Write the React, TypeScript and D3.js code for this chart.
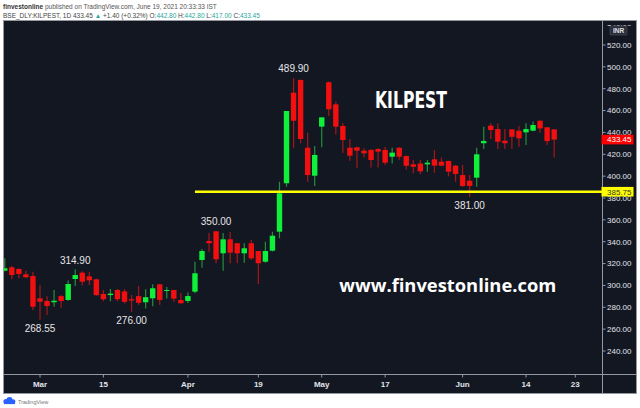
import React from 'react';
import * as d3 from 'd3';

// daily bars, BSE:KILPEST
const dates = [
  '2021-02-22', '2021-02-23', '2021-02-24', '2021-02-25', '2021-02-26',
  '2021-03-01', '2021-03-02', '2021-03-03', '2021-03-04', '2021-03-05',
  '2021-03-08', '2021-03-09', '2021-03-10', '2021-03-12', '2021-03-15',
  '2021-03-16', '2021-03-17', '2021-03-18', '2021-03-19', '2021-03-22',
  '2021-03-23', '2021-03-24', '2021-03-25', '2021-03-26', '2021-03-30',
  '2021-03-31', '2021-04-01', '2021-04-05', '2021-04-06', '2021-04-07',
  '2021-04-08', '2021-04-09', '2021-04-12', '2021-04-13', '2021-04-15',
  '2021-04-16', '2021-04-19', '2021-04-20', '2021-04-22', '2021-04-23',
  '2021-04-26', '2021-04-27', '2021-04-28', '2021-04-29', '2021-04-30',
  '2021-05-03', '2021-05-04', '2021-05-05', '2021-05-06', '2021-05-07',
  '2021-05-10', '2021-05-11', '2021-05-12', '2021-05-14', '2021-05-17',
  '2021-05-18', '2021-05-19', '2021-05-20', '2021-05-21', '2021-05-24',
  '2021-05-25', '2021-05-26', '2021-05-27', '2021-05-28', '2021-05-31',
  '2021-06-01', '2021-06-02', '2021-06-03', '2021-06-04', '2021-06-07',
  '2021-06-08', '2021-06-09', '2021-06-10', '2021-06-11', '2021-06-14',
  '2021-06-15', '2021-06-16', '2021-06-17', '2021-06-18',
];
const opens = [
  313.5, 316.6, 315, 310.2, 308.6, 288.2, 285.8, 284.6, 290.2, 286.7,
  305.9, 311.7, 308.3, 305.6, 292.2, 291.2, 295.8, 294.5, 287.4, 290.2,
  284.6, 288.2, 301, 295, 295.8, 286.7, 285.8, 294.3, 323.3, 340.7,
  349.5, 329.4, 342.2, 338.6, 329.4, 338.6, 331.5, 321.7, 331.8, 349.2,
  393.5, 476.4, 488, 426, 400.4, 445.3, 485.9, 465.7, 445.9, 426,
  426.4, 423.3, 424, 424.8, 424, 417.8, 426, 418.4, 410.8, 411.5,
  410.8, 415.4, 413.2, 413.9, 409.6, 401, 395.8, 398.6, 430.1, 446.2,
  443.1, 432.4, 442.8, 441.6, 440.1, 441.6, 450.7, 444.7, 442.8,
];
const highs = [
  324.8, 317.8, 315.7, 313.5, 312.6, 300.4, 290, 295.8, 291.2, 304.5,
  314.9, 313, 312.6, 306, 295.8, 296.7, 296.7, 296.7, 291.2, 299.5,
  296.5, 301, 301.5, 298.5, 296, 293, 293.5, 321.7, 333.3, 348,
  350, 348, 349, 338.6, 338.6, 341.6, 331.5, 340, 349.2, 394.9,
  459.6, 489.9, 488.5, 439.8, 427.6, 454, 486.5, 468, 448.4, 433.7,
  427, 425.5, 424.5, 425.5, 426.7, 426, 426.5, 418.8, 414.8, 414.8,
  414.8, 424, 417, 414, 410, 410.2, 401, 426, 445.2, 448.4,
  448.4, 443.1, 442.8, 445.8, 448.4, 450, 451, 444.9, 442.8,
];
const lows = [
  313, 305.6, 306.5, 306.5, 277.5, 268.55, 273, 280.5, 279.5, 286,
  299.5, 300, 300.4, 290.3, 285.5, 285.5, 285.5, 283.5, 276, 282,
  279, 281, 282, 288, 285, 283.5, 284, 292.8, 316.2, 330.9,
  320.3, 313.5, 320.3, 320.3, 320.8, 323.3, 301.3, 320.8, 331, 343.1,
  390.3, 425.5, 430, 394.9, 391, 426.4, 455, 438, 421.5, 414,
  407.2, 417, 408, 408, 410, 411.5, 415, 406, 402.6, 402,
  404, 403.2, 409, 400, 394.9, 390.3, 381, 390.3, 424.8, 434,
  424.8, 424.8, 424.8, 427, 428.5, 441, 440, 428.5, 417,
];
const closes = [
  315.7, 309.5, 310.5, 307.5, 280.5, 285.1, 281.2, 286, 285.7, 301.3,
  309.5, 303.4, 304.7, 291.2, 287.4, 292.5, 287.4, 285, 286.2, 284.1,
  289.2, 297.4, 286.7, 295.8, 287.9, 283.7, 290.3, 311.1, 331.5, 338.6,
  323.9, 342.2, 330, 329.4, 334, 324.8, 320.3, 331.5, 345.5, 384.3,
  459.6, 450.7, 434, 401, 419.4, 453.8, 461.2, 445.3, 433.1, 418.7,
  423.3, 420.9, 414.8, 422.4, 412.3, 421.5, 417.8, 409.5, 408.6, 404.4,
  412.3, 409.6, 409.6, 404.1, 402, 391, 391, 420, 432.2, 442.2,
  431.5, 430.1, 436, 434.6, 443.1, 446.8, 443.7, 432.05, 433.45,
];
// trading days after the last bar, so the time axis can reach "23"
const futureDates = ['2021-06-21', '2021-06-22', '2021-06-23'];

const timeTickDates = [
  '2021-03-01', '2021-03-15', '2021-04-01', '2021-04-19', '2021-05-03',
  '2021-05-17', '2021-06-01', '2021-06-14', '2021-06-23',
];
const timeTickLabels = ['Mar', '15', 'Apr', '19', 'May', '17', 'Jun', '14', '23'];
const priceTicks = [240, 260, 280, 300, 320, 340, 360, 380, 400, 420, 440, 460, 480, 500, 520, 540];

// swing highs / lows that carry a price note
const highNotes = ['2021-03-08', '2021-04-08', '2021-04-27'];
const lowNotes = ['2021-03-01', '2021-03-19', '2021-06-02'];

const supportPrice = 385.75;
const supportFrom = '2021-04-05';
const lastPrice = 433.45;

const UP = '#0ff03a';
const DOWN = '#f20f0f';
const UP_WICK = '#23903a';
const DOWN_WICK = '#a8161a';
const BG = '#131722';
const LINE = '#9598a1';
const FONT = '"Liberation Sans", Arial, sans-serif';

const App: React.FC = () => {
  const allDates = dates.concat(futureDates);
  const idx = (d: string) => allDates.indexOf(d);

  const left = 3.5;
  const top = 20.5;
  const plotRight = 602.5;
  const axisRight = 636.5;
  const plotBottom = 374.5;
  const bottom = 393.5;

  const x = d3.scaleLinear()
    .domain([idx('2021-03-01'), idx('2021-06-14')])
    .range([40, 526]);
  const y = d3.scaleLinear().domain([240, 520]).range([351, 45]);
  const bodyW = 5.4;

  const candles = dates.map((d, i) => ({
    d, i, o: opens[i], h: highs[i], l: lows[i], c: closes[i],
  }));

  return (
    <svg
      width={640}
      height={408}
      style={{ position: 'absolute', left: 0, top: 0, background: '#fff' }}
      fontFamily={FONT}
    >
      <defs>
        <clipPath id="plot">
          <rect x={left} y={top} width={plotRight - left} height={plotBottom - top} />
        </clipPath>
      </defs>

      {/* header */}
      <text x={3} y={8.5} fontSize={6.5} fill="#555">
        <tspan fontWeight="bold" fill="#333">finvestonline</tspan>
        <tspan> published on TradingView.com, June 19, 2021 20:33:33 IST</tspan>
      </text>
      <text x={3} y={18} fontSize={6.5} fill="#444">
        <tspan>BSE_DLY:KILPEST, 1D 433.45 </tspan>
        <tspan fill="#26a69a">▲</tspan>
        <tspan> +1.40 (+0.32%) O:</tspan>
        <tspan fill="#26a69a">442.80</tspan>
        <tspan> H:</tspan>
        <tspan fill="#26a69a">442.80</tspan>
        <tspan> L:</tspan>
        <tspan fill="#26a69a">417.00</tspan>
        <tspan> C:</tspan>
        <tspan fill="#26a69a">433.45</tspan>
      </text>

      {/* panel */}
      <rect x={left} y={top} width={axisRight - left} height={bottom - top} fill={BG} stroke={LINE} strokeWidth={1} />
      <line x1={left} x2={axisRight} y1={plotBottom} y2={plotBottom} stroke={LINE} />
      <line x1={plotRight} x2={plotRight} y1={top} y2={bottom} stroke={LINE} />

      {/* watermark */}
      <text x={375} y={108.3} fontSize={23} fontWeight="bold" fill="#fff"
        fontFamily='"DejaVu Sans", sans-serif' textLength={72} lengthAdjust="spacingAndGlyphs">
        KILPEST
      </text>
      <text x={339.3} y={291.7} fontSize={17.5} fontWeight="bold" fill="#fff"
        fontFamily='"Open Sans", sans-serif' textLength={217} lengthAdjust="spacingAndGlyphs">
        www.finvestonline.com
      </text>

      <g clipPath="url(#plot)">
        {candles.map((k) => {
          const up = k.c >= k.o;
          const cx = x(k.i);
          const yTop = y(Math.max(k.o, k.c));
          const yBot = y(Math.min(k.o, k.c));
          return (
            <g key={k.d}>
              <line x1={cx} x2={cx} y1={y(k.h)} y2={y(k.l)} stroke={up ? UP_WICK : DOWN_WICK} strokeWidth={1.2} />
              <rect
                x={cx - bodyW / 2}
                y={yTop}
                width={bodyW}
                height={Math.max(1, yBot - yTop)}
                fill={up ? UP : DOWN}
              />
            </g>
          );
        })}

        <line
          x1={x(idx(supportFrom))}
          x2={plotRight}
          y1={y(supportPrice)}
          y2={y(supportPrice)}
          stroke="#ffff00"
          strokeWidth={2.5}
        />

        {highNotes.map((d) => (
          <text key={d} x={x(idx(d))} y={y(highs[idx(d)]) - 5.5} fontSize={10} fill="#e6e6e6" textAnchor="middle">
            {highs[idx(d)].toFixed(2)}
          </text>
        ))}
        {lowNotes.map((d) => (
          <text key={d} x={x(idx(d))} y={y(lows[idx(d)]) + 12} fontSize={10} fill="#e6e6e6" textAnchor="middle">
            {lows[idx(d)].toFixed(2)}
          </text>
        ))}
      </g>

      {/* price axis */}
      <g>
        {priceTicks.map((p) => (
          <g key={p} transform={`translate(0,${y(p)})`}>
            <line x1={plotRight} x2={plotRight + 3} stroke={LINE} />
            <text x={607} dy="0.35em" fontSize={8} fill="#e0e3eb">{p.toFixed(2)}</text>
          </g>
        ))}
        <rect x={plotRight + 0.5} y={top + 0.5} width={axisRight - plotRight - 1} height={4} fill={BG} />
        <rect x={610} y={26} width={17} height={9} fill="#2a2e39" stroke="#50535e" strokeWidth={0.6} rx={1} />
        <text x={618.5} y={30.5} dy="0.35em" fontSize={6.5} fill="#e0e3eb" textAnchor="middle" fontWeight="bold">INR</text>

        <rect x={plotRight - 1} y={y(lastPrice) - 4.8} width={32} height={9.6} fill="#ff0000" />
        <text x={607} y={y(lastPrice)} dy="0.35em" fontSize={8} fill="#fff">{lastPrice.toFixed(2)}</text>

        <rect x={plotRight - 1} y={y(supportPrice) - 4.8} width={32} height={9.6} fill="#ffff00" />
        <text x={607} y={y(supportPrice)} dy="0.35em" fontSize={8} fill="#333">{supportPrice.toFixed(2)}</text>
      </g>

      {/* time axis */}
      <g>
        {timeTickDates.map((d, i) => (
          <g key={d} transform={`translate(${x(idx(d))},0)`}>
            <line y1={plotBottom} y2={plotBottom + 3} stroke={LINE} />
            <text y={387} fontSize={8} fontWeight="bold" fill="#e0e3eb" textAnchor="middle">
              {timeTickLabels[i]}
            </text>
          </g>
        ))}
      </g>

      {/* TradingView mark */}
      <g transform="translate(3,397)">
        <circle cx={3} cy={4.5} r={2.6} fill="#2962ff" />
        <circle cx={6.5} cy={3} r={3} fill="#2962ff" />
        <circle cx={10} cy={4.6} r={2.4} fill="#2962ff" />
        <rect x={1} y={4.5} width={11} height={2.6} fill="#2962ff" />
        <text x={15} y={6.5} fontSize={5.5} fill="#777">TradingView</text>
      </g>
    </svg>
  );
};

export default App;
